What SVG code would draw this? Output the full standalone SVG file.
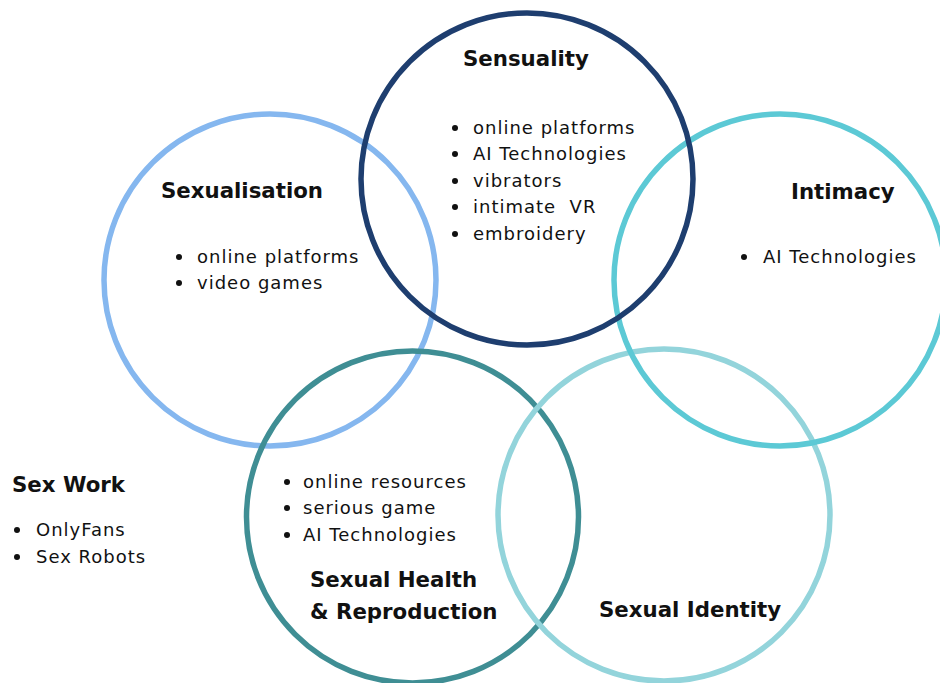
<svg xmlns="http://www.w3.org/2000/svg" width="940" height="683" viewBox="0 0 940 683">
  <style>
    .ring { fill: none; stroke-width: 5.5; }
    .title { font-family: "DejaVu Sans", "Noto Sans", sans-serif; font-weight: 700; font-size: 21.3px; fill: #111; }
    .item { font-family: "DejaVu Sans", "Noto Sans", sans-serif; font-size: 18px; letter-spacing: 1px; fill: #111; }
    .dot { fill: #111; }
  </style>
  <rect width="940" height="683" fill="#ffffff"/>

  <g id="connectors"></g>

  <g id="sexualisation">
    <circle class="ring" cx="270" cy="280" r="166" stroke="#85B7EF"/>
    <text class="title" x="161" y="198">Sexualisation</text>
    <circle class="dot" cx="179" cy="257" r="3"/>
    <text class="item" x="197" y="263">online platforms</text>
    <circle class="dot" cx="179" cy="283" r="3"/>
    <text class="item" x="197" y="289">video games</text>
  </g>

  <g id="sexual-health">
    <circle class="ring" cx="412.5" cy="517" r="166" stroke="#3F8E94"/>
    <circle class="dot" cx="287" cy="482" r="3"/>
    <text class="item" x="303" y="488">online resources</text>
    <circle class="dot" cx="287" cy="508" r="3"/>
    <text class="item" x="303" y="514">serious game</text>
    <circle class="dot" cx="287" cy="535" r="3"/>
    <text class="item" x="303" y="541">AI Technologies</text>
    <text class="title" x="310" y="587">Sexual Health</text>
    <text class="title" x="310" y="619">&amp; Reproduction</text>
  </g>

  <g id="sexual-identity">
    <circle class="ring" cx="664" cy="515" r="166" stroke="#93D4DB"/>
    <text class="title" x="599" y="617">Sexual Identity</text>
  </g>

  <g id="intimacy">
    <circle class="ring" cx="780" cy="280" r="166" stroke="#5CC9D5"/>
    <text class="title" x="791" y="199">Intimacy</text>
    <circle class="dot" cx="744" cy="257" r="3"/>
    <text class="item" x="763" y="263">AI Technologies</text>
  </g>

  <g id="sensuality">
    <circle class="ring" cx="527" cy="179" r="166" stroke="#1E3E6F"/>
    <text class="title" x="463" y="66">Sensuality</text>
    <circle class="dot" cx="455" cy="128" r="3"/>
    <text class="item" x="473" y="134">online platforms</text>
    <circle class="dot" cx="455" cy="154" r="3"/>
    <text class="item" x="473" y="160">AI Technologies</text>
    <circle class="dot" cx="455" cy="181" r="3"/>
    <text class="item" x="473" y="187">vibrators</text>
    <circle class="dot" cx="455" cy="207" r="3"/>
    <text class="item" x="473" y="213">intimate&#160; VR</text>
    <circle class="dot" cx="455" cy="234" r="3"/>
    <text class="item" x="473" y="240">embroidery</text>
  </g>

  <g id="sex-work">
    <text class="title" x="12" y="492">Sex Work</text>
    <circle class="dot" cx="17" cy="530" r="3"/>
    <text class="item" x="36" y="536">OnlyFans</text>
    <circle class="dot" cx="17" cy="557" r="3"/>
    <text class="item" x="36" y="563">Sex Robots</text>
  </g>
</svg>
